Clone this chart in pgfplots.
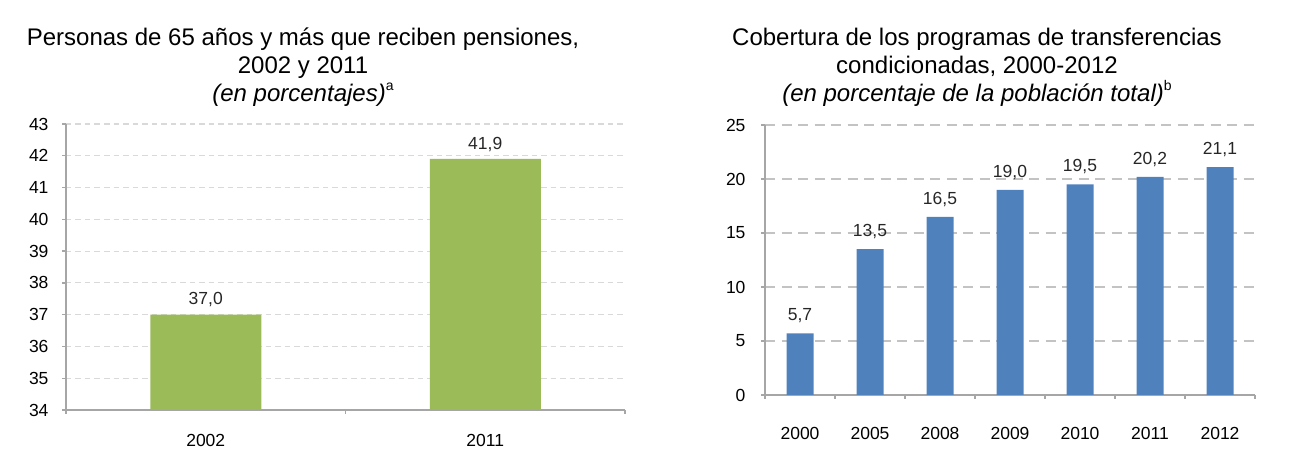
\documentclass[border=0pt]{standalone}
\usepackage{pgfplots}
\pgfplotsset{compat=1.18}
\usepackage{fontspec}
\setmainfont{Liberation Sans}
\definecolor{barg}{HTML}{9BBB59}
\definecolor{barb}{HTML}{4F81BD}
\definecolor{axgray}{HTML}{A6A6A6}
\definecolor{gridl}{HTML}{D9D9D9}
\definecolor{gridr}{HTML}{C3C3C3}
\newcommand{\tfont}{\fontsize{24}{28}\selectfont}
\newcommand{\lfont}{\fontsize{17.5}{20}\selectfont}
\pgfplotsset{
  mybase/.style={
    scale only axis,
    axis x line*=bottom, axis y line*=left,
    ybar, bar shift=0pt,
    /pgf/number format/assume math mode=true,
    tick align=outside,
    major tick length=4pt,
    xticklabels={},
    ymajorgrids,
    tick label style={font=\lfont},
    tick style={axgray, line width=1.3pt},
    nodes near coords={\pgfmathprintnumber[fixed, fixed zerofill, precision=1, use comma]{\pgfplotspointmeta}},
    every node near coord/.append style={font=\lfont, text=black!85},
  }
}
\begin{document}
\begin{tikzpicture}[x=1pt,y=1pt]
\useasboundingbox (0,0) rectangle (1290,470);
% Left panel
\node[anchor=base, font=\tfont] at (303,424) {Personas de 65 años y más que reciben pensiones,};
\node[anchor=base, font=\tfont] at (303,396) {2002 y 2011};
\node[anchor=base, font=\tfont] at (303,368) {\textit{(en porcentajes)}\raisebox{11pt}{\fontsize{14}{16}\selectfont a}};
\begin{axis}[mybase,
  at={(66pt,60pt)}, anchor=south west,
  width=559pt, height=286pt,
  xmin=-0.5, xmax=1.5, ymin=34, ymax=43,
  ytick={34,35,...,43},
  xtick={-0.5,0.5,1.5},
  extra x ticks={0,1},
  extra x tick labels={2002,2011},
  extra x tick style={major tick length=0pt, xticklabel style={yshift=-21pt}},
  yticklabel style={xshift=-10pt},
  axis line style={axgray, line width=1.5pt, -},
  grid style={gridl, line width=1.2pt, dash pattern=on 5.5pt off 4pt},
  bar width=111pt,
  every node near coord/.append style={yshift=4pt},
]
\addplot[fill=barg, draw=none] coordinates {(0,37.0) (1,41.9)};
\end{axis}
% Right panel
\node[anchor=base, font=\tfont] at (977,424) {Cobertura de los programas de transferencias};
\node[anchor=base, font=\tfont] at (977,396) {condicionadas, 2000-2012};
\node[anchor=base, font=\tfont] at (977,368) {\textit{(en porcentaje de la población total)}\raisebox{11pt}{\fontsize{14}{16}\selectfont b}};
\begin{axis}[mybase,
  at={(765pt,75pt)}, anchor=south west,
  width=490pt, height=270pt,
  xmin=-0.5, xmax=6.5, ymin=0, ymax=25,
  ytick={0,5,...,25},
  xtick={-0.5,0.5,...,6.5},
  extra x ticks={0,1,2,3,4,5,6},
  extra x tick labels={2000,2005,2008,2009,2010,2011,2012},
  extra x tick style={major tick length=0pt, xticklabel style={yshift=-29pt}},
  yticklabel style={xshift=-12pt},
  axis line style={axgray, line width=2pt, -},
  grid style={gridr, line width=2pt, dash pattern=on 10pt off 6.5pt},
  bar width=27pt,
  every node near coord/.append style={yshift=7pt},
]
\addplot[fill=barb, draw=none] coordinates {(0,5.7) (1,13.5) (2,16.5) (3,19.0) (4,19.5) (5,20.2) (6,21.1)};
\end{axis}
\end{tikzpicture}
\end{document}
